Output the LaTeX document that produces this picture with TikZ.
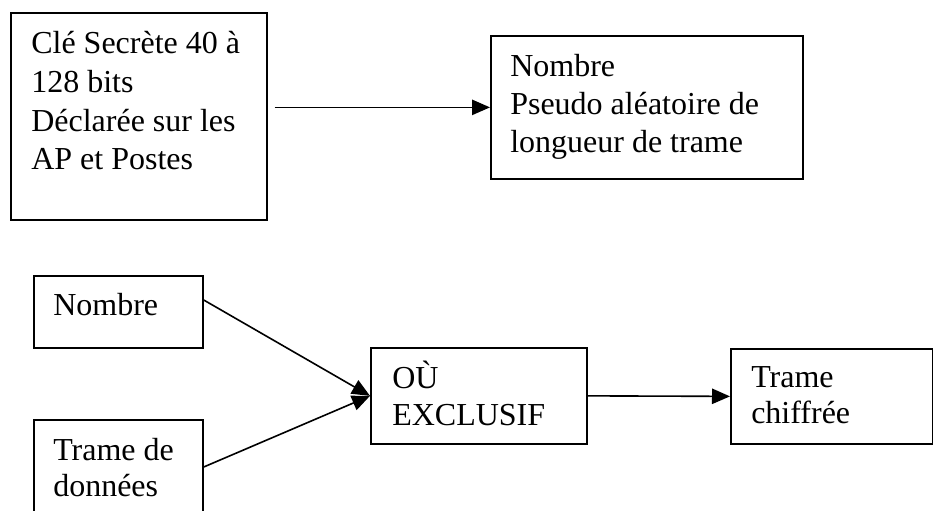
\documentclass[tikz,border=0pt]{standalone}
\usepackage{fontspec}
\setmainfont{Liberation Serif}
\usetikzlibrary{arrows.meta,calc}
\tikzset{
  boxn/.style={draw, line width=1.3pt, inner sep=0pt, anchor=north west},
  txt/.style={anchor=base west, inner sep=0pt, font=\fontsize{24}{28}\selectfont},
  arr/.style={line width=1.2pt, -{Triangle[length=13.5pt,width=11.5pt]}}
}
\begin{document}
\begin{tikzpicture}[x=0.75pt,y=-0.75pt]
\useasboundingbox[fill=white] (0,0) rectangle (933,511);
% boxes
\node[boxn, minimum width=192pt, minimum height=155.25pt] (b1) at (10,12) {};
\node[boxn, minimum width=234pt, minimum height=107.25pt] (b2) at (490,35) {};
\node[boxn, minimum width=126.75pt, minimum height=54pt] (b3) at (33,275) {};
\node[boxn, minimum width=126.75pt, minimum height=90pt] (b4) at (33,419) {};
\node[boxn, minimum width=162pt, minimum height=72pt] (b5) at (370,347) {};
\node[boxn, minimum width=151.5pt, minimum height=71.25pt] (b6) at (730,348) {};
% texts
\node[txt] (t1a) at (31,53) {Clé Secrète 40 à};
\node[txt] (t1b) at (31,92) {128 bits};
\node[txt] (t1c) at (31,131) {Déclarée sur les};
\node[txt] (t1d) at (31,169) {AP et Postes};
\node[txt] (t2a) at (510,76) {Nombre};
\node[txt] (t2b) at (510,114) {Pseudo aléatoire de};
\node[txt] (t2c) at (510,152) {longueur de trame};
\node[txt] (t3a) at (53,315) {Nombre};
\node[txt] (t4a) at (53,460) {Trame de};
\node[txt] (t4b) at (53,496) {données};
\node[txt] (t5a) at (392,388) {OÙ};
\node[txt] (t5b) at (392,425) {EXCLUSIF};
\node[txt] (t6a) at (751,387) {Trame};
\node[txt] (t6b) at (751,423) {chiffrée};
% connectors
\draw[arr] ($(b2.west -| b1.east)+(7,0)$) -- (b2.west);
\draw[arr] ($(b3.north east)+(0,25)$) -- (b5.west);
\draw[arr] ($(b4.north east)+(0,48)$) -- (b5.west);
\draw[arr] (b5.east) -- (b6.west);
\end{tikzpicture}
\end{document}
